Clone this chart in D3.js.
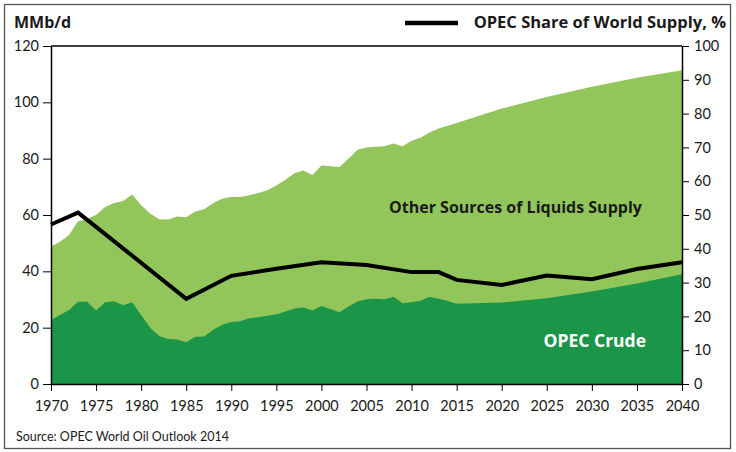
<!DOCTYPE html>
<html>
<head>
<meta charset="utf-8">
<script src="https://cdn.jsdelivr.net/npm/d3@7"></script>
<style>
  body { margin: 0; background: #fff; }
  svg { display: block; font-family: "Gill Sans", Lato, "Open Sans", sans-serif; }
  .bold { font-family: "Open Sans", Lato, sans-serif; font-weight: bold; }
</style>
</head>
<body>
<svg id="chart" width="736" height="452"></svg>
<script>
// ---- Data ----
const supplyYears = [1970,1971,1972,1973,1974,1975,1976,1977,1978,1979,
  1980,1981,1982,1983,1984,1985,1986,1987,1988,1989,
  1990,1991,1992,1993,1994,1995,1996,1997,1998,1999,
  2000,2001,2002,2003,2004,2005,2006,2007,2008,2009,
  2010,2011,2012,2013,2014,2015,2020,2025,2030,2035,2040];
const totalSupply = [48.8,50.5,52.9,57.8,58.6,60.0,62.8,64.3,65.0,67.3,
  63.5,60.5,58.5,58.4,59.5,59.2,61.2,62.0,64.3,65.8,
  66.5,66.4,67.0,67.8,68.8,70.5,72.5,74.8,75.8,74.2,
  77.6,77.3,77.0,80.0,83.2,84.0,84.2,84.4,85.4,84.4,
  86.4,87.4,89.3,90.7,91.7,92.7,97.8,101.9,105.5,108.7,111.4];
const opecCrude = [22.8,24.5,26.3,29.2,29.2,26.1,29.0,29.4,28.0,29.0,
  24.5,20.0,17.0,16.0,15.8,14.8,16.8,16.9,19.3,21.0,
  22.0,22.3,23.3,23.7,24.2,24.8,25.7,26.8,27.2,26.1,
  27.7,26.6,25.5,27.5,29.3,30.1,30.3,30.1,31.0,28.7,
  29.0,29.6,31.0,30.3,29.5,28.5,28.9,30.4,32.8,35.7,39.0];

const shareYears = [1970,1973,1975,1985,1990,1995,2000,2005,2010,2013,2015,2020,2025,2030,2035,2040];
const shareValues = [47.2,50.7,46.5,25.2,32.0,34.1,36.0,35.2,33.1,33.1,30.8,29.3,32.1,31.0,34.0,36.0];

const xTickYears = [1970,1975,1980,1985,1990,1995,2000,2005,2010,2015,2020,2025,2030,2035,2040];
const leftTicks = [0,20,40,60,80,100,120];
const rightTicks = [0,10,20,30,40,50,60,70,80,90,100];

const labels = {
  unit: "MMb/d",
  legend: "OPEC Share of World Supply, %",
  other: "Other Sources of Liquids Supply",
  opec: "OPEC Crude",
  source: "Source: OPEC World Oil Outlook 2014"
};

// ---- Layout ----
const svg = d3.select("#chart");
const L = 51, R = 682, T = 46, B = 384;
const x = d3.scaleLinear().domain([1970, 2040]).range([L, R]);
const yL = d3.scaleLinear().domain([0, 120]).range([B, T]);
const yR = d3.scaleLinear().domain([0, 100]).range([B, T]);

// outer frame
svg.append("rect").attr("x", 4.5).attr("y", 4.5).attr("width", 726).attr("height", 444)
  .attr("fill", "none").attr("stroke", "#555").attr("stroke-width", 1.3);

const supply = supplyYears.map((yr, i) => ({ yr, total: totalSupply[i], opec: opecCrude[i] }));

// areas
svg.append("path").datum(supply)
  .attr("fill", "#92C65A")
  .attr("d", d3.area().x(d => x(d.yr)).y0(yL(0)).y1(d => yL(d.total)));
svg.append("path").datum(supply)
  .attr("fill", "#1B9548")
  .attr("d", d3.area().x(d => x(d.yr)).y0(yL(0)).y1(d => yL(d.opec)));

// share line
const share = shareYears.map((yr, i) => ({ yr, v: shareValues[i] }));
svg.append("path").datum(share)
  .attr("fill", "none").attr("stroke", "#000").attr("stroke-width", 4)
  .attr("stroke-linejoin", "miter")
  .attr("d", d3.line().x(d => x(d.yr)).y(d => yR(d.v)));

// top frame line
svg.append("line").attr("x1", L).attr("x2", R).attr("y1", T).attr("y2", T)
  .attr("stroke", "#000").attr("stroke-width", 1.5);

// axes
const styleAxis = g => {
  g.selectAll(".domain").attr("stroke", "#000").attr("stroke-width", 1.5);
  g.selectAll(".tick line").attr("stroke", "#000").attr("stroke-width", 1);
  g.selectAll(".tick text").attr("fill", "#1a1a1a").style("font-size", "14.5px")
    .style("font-family", '"Gill Sans", Lato, "Open Sans", sans-serif');
};
svg.append("g").attr("transform", `translate(${L},0)`)
  .call(d3.axisLeft(yL).tickValues(leftTicks).tickSize(8).tickSizeOuter(0).tickPadding(4))
  .call(styleAxis);
svg.append("g").attr("transform", `translate(${R},0)`)
  .call(d3.axisRight(yR).tickValues(rightTicks).tickSize(7).tickSizeOuter(0).tickPadding(5))
  .call(styleAxis);
svg.append("g").attr("transform", `translate(0,${B})`)
  .call(d3.axisBottom(x).tickValues(xTickYears).tickFormat(d3.format("d")).tickSize(7).tickSizeOuter(0).tickPadding(10))
  .call(styleAxis);

// titles / labels
svg.append("text").attr("class", "bold").attr("x", 14).attr("y", 28).text(labels.unit)
  .attr("font-size", 16).attr("fill", "#1a1a1a");
svg.append("line").attr("x1", 405).attr("x2", 458).attr("y1", 23).attr("y2", 23)
  .attr("stroke", "#000").attr("stroke-width", 4.5);
svg.append("text").attr("class", "bold").attr("x", 726).attr("y", 28).attr("text-anchor", "end").text(labels.legend)
  .attr("font-size", 16.5).attr("fill", "#1a1a1a");

svg.append("text").attr("class", "bold").attr("x", 389).attr("y", 213).text(labels.other)
  .attr("font-size", 16).attr("fill", "#1a1a1a");
svg.append("text").attr("class", "bold").attr("x", 646).attr("y", 347).attr("text-anchor", "end").text(labels.opec)
  .attr("font-size", 17.5).attr("fill", "#fff");

svg.append("text").attr("x", 16).attr("y", 441).text(labels.source)
  .attr("font-size", 12.5).attr("fill", "#1a1a1a");
</script>
</body>
</html>
